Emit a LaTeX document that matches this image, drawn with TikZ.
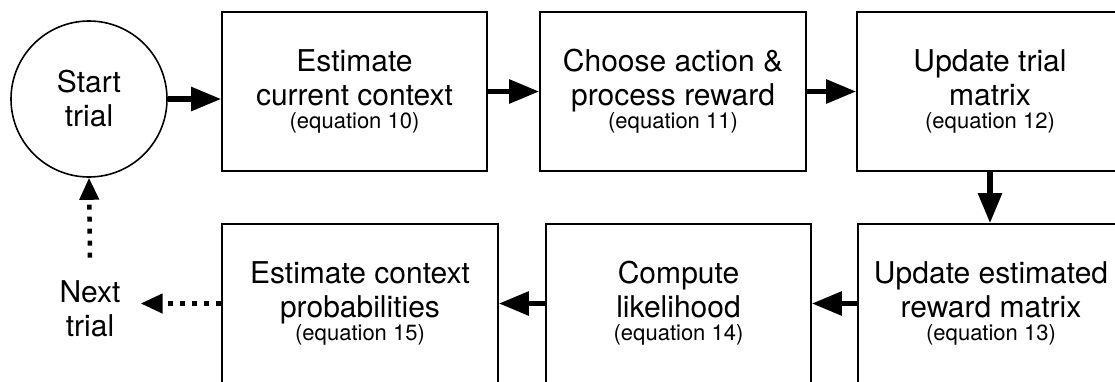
\documentclass[tikz,border=0pt]{standalone}
\usepackage{fontspec}
\setmainfont{TeX Gyre Heros}
\usetikzlibrary{arrows.meta}
\newcommand\mainf{\fontsize{30}{34}\selectfont}
\newcommand\eqf{\fontsize{22}{24}\selectfont}
\begin{document}
\begin{tikzpicture}[x=1pt,y=-1pt,
  box/.style={draw,line width=1.6pt,minimum width=#1,minimum height=159pt,inner sep=0pt,align=center,font=\mainf},
  arr/.style={line width=5.5pt,-{Triangle[length=30pt,width=23pt]}},
  dotarr/.style={line width=4.5pt,dash pattern=on 5pt off 7pt,-{Triangle[length=22pt,width=19pt]}}
]
\useasboundingbox (0,0) rectangle (1115,381);
\clip (0,0) rectangle (1115,381);

\node[draw,circle,line width=1.6pt,minimum size=156pt,inner sep=0pt,align=center,font=\mainf] (start) at (89,99) {Start\\trial};

\node[box=265pt] (b1) at (354.5,91.5) {Estimate\\current context\\[-11pt]{\eqf (equation 10)}};
\node[box=266pt] (b2) at (673,91.5) {Choose action \&\\process reward\\[-11pt]{\eqf (equation 11)}};
\node[box=266pt] (b3) at (990,91.5) {Update trial\\matrix\\[-11pt]{\eqf (equation 12)}};

\node[box=266pt] (b6) at (991,303.5) {Update estimated\\reward matrix\\[-11pt]{\eqf (equation 13)}};
\node[box=265pt] (b5) at (678.5,303.5) {Compute\\likelihood\\[-11pt]{\eqf (equation 14)}};
\node[box=276pt] (b4) at (360,303.5) {Estimate context\\probabilities\\[-11pt]{\eqf (equation 15)}};

\node[align=center,font=\mainf,inner xsep=20pt,inner ysep=23pt] (next) at (90,309) {Next\\trial};

\draw[arr] (start.east) -- (start.east -| b1.west);
\draw[arr] (b1) -- (b2);
\draw[arr] (b2) -- (b3);
\draw[arr] (b3.south) -- (b3.south |- b6.north);
\draw[arr] (b6) -- (b5);
\draw[arr] (b5) -- (b4);
\draw[dotarr] (b4.west) -- (b4.west -| next.east);
\draw[dotarr] (next.north) -- (start.south);
\end{tikzpicture}
\end{document}
